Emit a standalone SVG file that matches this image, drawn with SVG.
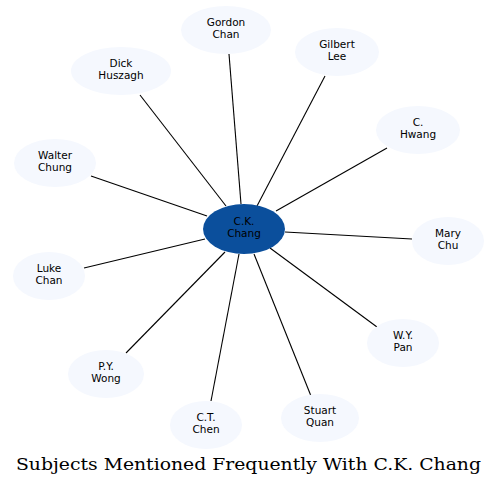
<svg xmlns="http://www.w3.org/2000/svg" width="497" height="486" viewBox="0 0 497 486">
<style>
.n ellipse{fill:#f5f8fe;stroke:none}
.n text,.c text{font-family:"DejaVu Sans",sans-serif;font-size:10.5px;text-anchor:middle;fill:#000}
.e line{stroke:#000;stroke-width:1.1}
.t{font-family:"DejaVu Serif",serif;font-size:17px;fill:#000}
</style>
<rect width="497" height="486" fill="#fff"/>
<g id="connectors" class="e">
<line x1="229" y1="54" x2="241" y2="204"/>
<line x1="325" y1="76" x2="257" y2="206"/>
<line x1="140" y1="95" x2="226" y2="206"/>
<line x1="387" y1="148" x2="276" y2="211"/>
<line x1="91" y1="176" x2="207" y2="216"/>
<line x1="412" y1="239" x2="285" y2="232"/>
<line x1="84" y1="268" x2="205" y2="239"/>
<line x1="377" y1="327" x2="270" y2="248"/>
<line x1="126" y1="353" x2="225" y2="252"/>
<line x1="211" y1="401" x2="239" y2="254"/>
<line x1="311" y1="396" x2="254" y2="254"/>
</g>
<g id="gordon" class="n"><ellipse cx="226" cy="30" rx="45" ry="24"/><text x="226" y="26">Gordon</text><text x="226" y="38">Chan</text></g>
<g id="gilbert" class="n"><ellipse cx="337" cy="52" rx="42" ry="24"/><text x="337" y="48">Gilbert</text><text x="337" y="60">Lee</text></g>
<g id="dick" class="n"><ellipse cx="121" cy="71" rx="50" ry="24"/><text x="121" y="67">Dick</text><text x="121" y="79">Huszagh</text></g>
<g id="hwang" class="n"><ellipse cx="418" cy="130" rx="42" ry="24"/><text x="418" y="126">C.</text><text x="418" y="138">Hwang</text></g>
<g id="walter" class="n"><ellipse cx="55" cy="163" rx="41" ry="24"/><text x="55" y="159">Walter</text><text x="55" y="171">Chung</text></g>
<g id="mary" class="n"><ellipse cx="448" cy="241" rx="36" ry="24"/><text x="448" y="237">Mary</text><text x="448" y="249">Chu</text></g>
<g id="luke" class="n"><ellipse cx="49" cy="276" rx="36" ry="24"/><text x="49" y="272">Luke</text><text x="49" y="284">Chan</text></g>
<g id="wypan" class="n"><ellipse cx="403" cy="343" rx="36" ry="24"/><text x="403" y="339">W.Y.</text><text x="403" y="351">Pan</text></g>
<g id="pywong" class="n"><ellipse cx="106" cy="374" rx="38" ry="24"/><text x="106" y="370">P.Y.</text><text x="106" y="382">Wong</text></g>
<g id="ctchen" class="n"><ellipse cx="206" cy="425" rx="36" ry="24"/><text x="206" y="421">C.T.</text><text x="206" y="433">Chen</text></g>
<g id="stuart" class="n"><ellipse cx="320" cy="418" rx="39" ry="24"/><text x="320" y="414">Stuart</text><text x="320" y="426">Quan</text></g>
<g id="ckchang" class="c"><ellipse cx="244" cy="229" rx="41" ry="25" fill="#0b4f9c"/><text x="244" y="225">C.K.</text><text x="244" y="237">Chang</text></g>
<text class="t" x="16" y="470" textLength="465" lengthAdjust="spacingAndGlyphs">Subjects Mentioned Frequently With C.K. Chang</text>
</svg>
